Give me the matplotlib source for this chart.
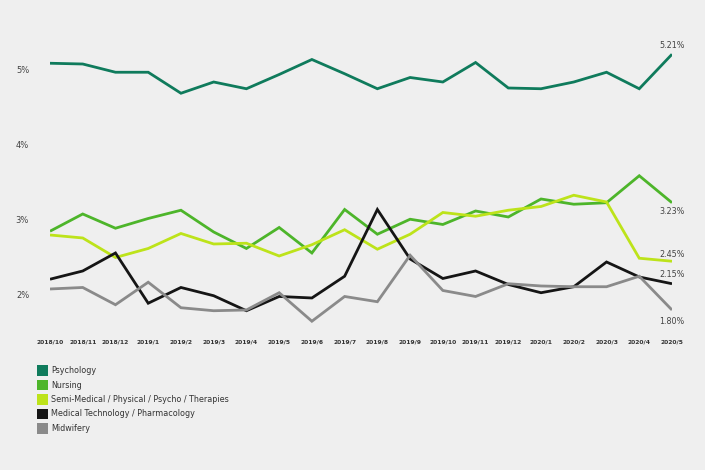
import matplotlib
matplotlib.use("Agg")
import matplotlib.pyplot as plt
from matplotlib.patches import Rectangle

months = ["2018/10", "2018/11", "2018/12", "2019/1", "2019/2", "2019/3", "2019/4",
          "2019/5", "2019/6", "2019/7", "2019/8", "2019/9", "2019/10", "2019/11",
          "2019/12", "2020/1", "2020/2", "2020/3", "2020/4", "2020/5"]

psychology = [5.09, 5.08, 4.97, 4.97, 4.69, 4.84, 4.75, 4.94, 5.14, 4.95,
              4.75, 4.90, 4.84, 5.10, 4.76, 4.75, 4.84, 4.97, 4.75, 5.21]
nursing = [2.85, 3.08, 2.89, 3.02, 3.13, 2.84, 2.62, 2.90, 2.56, 3.14,
           2.81, 3.01, 2.94, 3.12, 3.04, 3.28, 3.21, 3.23, 3.59, 3.23]
semi_medical = [2.80, 2.76, 2.50, 2.62, 2.82, 2.68, 2.69, 2.52, 2.67, 2.87,
                2.61, 2.81, 3.10, 3.05, 3.13, 3.18, 3.33, 3.24, 2.49, 2.45]
medical_tech = [2.21, 2.32, 2.56, 1.89, 2.10, 1.99, 1.79, 1.98, 1.96, 2.25,
                3.14, 2.48, 2.22, 2.32, 2.14, 2.03, 2.11, 2.44, 2.24, 2.15]
midwifery = [2.08, 2.10, 1.87, 2.17, 1.83, 1.79, 1.80, 2.03, 1.65, 1.98,
             1.91, 2.53, 2.06, 1.98, 2.15, 2.12, 2.11, 2.11, 2.25, 1.80]

series_names = ["Psychology", "Nursing", "Semi-Medical / Physical / Psycho / Therapies",
                "Medical Technology / Pharmacology", "Midwifery"]
series_values = [psychology, nursing, semi_medical, medical_tech, midwifery]
colors = ["#0f7b5c", "#4db52a", "#bde31a", "#151515", "#8a8a8a"]
end_offsets = [6.2, -6.2, 5.0, 7.0, -8.6]  # points, label above (+) / below (-)

y_ticks = [2, 3, 4, 5]
y_tick_labels = ["2%", "3%", "4%", "5%"]

bg = "#efefef"
W, H = 705, 470
fig = plt.figure(figsize=(W / 100, H / 100), dpi=100, facecolor=bg)
ax = fig.add_axes([50 / W, (H - 330) / H, 622 / W, 290 / H], facecolor=bg)

x = list(range(len(months)))
for vals, c in zip(series_values, colors):
    ax.plot(x, vals, color=c, lw=2.0, solid_joinstyle="miter", solid_capstyle="butt")

for vals, off in zip(series_values, end_offsets):
    ax.annotate(f"{vals[-1]:.2f}%", (x[-1], vals[-1]), xytext=(0, off),
                textcoords="offset points", ha="center", va="center",
                fontsize=5.8, color="#444444")

ax.set_xlim(0, len(months) - 1)
ax.set_ylim(1.533, 5.4)
ax.set_xticks(x)
ax.set_xticklabels(months, fontsize=4.3, fontweight="bold", color="#333333")
ax.set_yticks(y_ticks)
ax.set_yticklabels(y_tick_labels, fontsize=6, color="#444444")
ax.tick_params(axis="x", length=0, pad=7)
ax.tick_params(axis="y", length=0, pad=15)
for s in ax.spines.values():
    s.set_visible(False)

# legend
top = 370.7
step = 14.4
for i, (name, c) in enumerate(zip(series_names, colors)):
    yc = top + i * step
    fig.add_artist(Rectangle((37 / W, (H - yc - 5.3) / H), 10.6 / W, 10.6 / H,
                             transform=fig.transFigure, facecolor=c, edgecolor="none"))
    fig.text(51 / W, (H - yc) / H, name, fontsize=5.8, color="#333333", va="center", ha="left")

fig.savefig("out.png", dpi=100, facecolor=bg)
